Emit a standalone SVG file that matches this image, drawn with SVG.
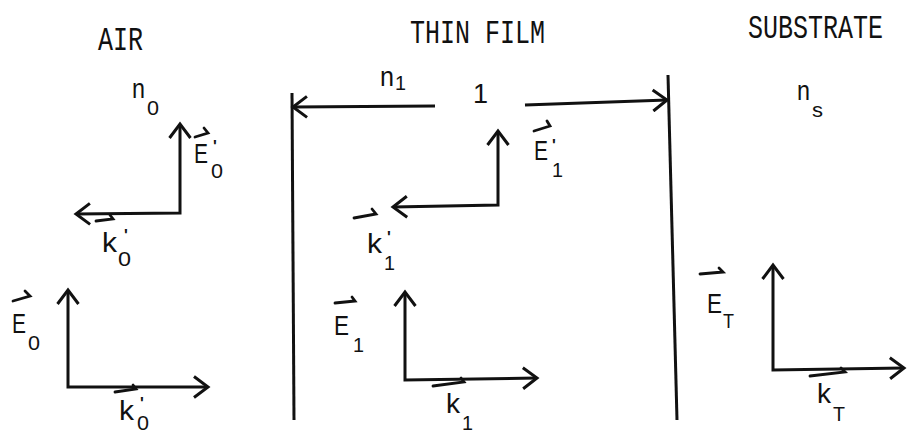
<svg xmlns="http://www.w3.org/2000/svg" width="907" height="435" viewBox="0 0 907 435">
<style>
.ln{fill:none;stroke:#111;stroke-width:3;stroke-linejoin:miter}
.vh{fill:none;stroke:#111;stroke-width:2.8;stroke-linecap:round}
.hd{font-family:"Liberation Mono","DejaVu Sans Mono",monospace;font-size:25px;fill:#111}
.lb{font-family:"Liberation Sans","DejaVu Sans",sans-serif;font-size:27px;fill:#111}
.sb{font-family:"Liberation Sans","DejaVu Sans",sans-serif;font-size:20px;fill:#111}
.pr{font-family:"Liberation Sans","DejaVu Sans",sans-serif;font-size:16px;font-weight:bold;fill:#111}
</style>
<defs>
<marker id="ah" viewBox="0 0 24 24" refX="19" refY="12" markerWidth="24" markerHeight="24" markerUnits="userSpaceOnUse" orient="auto-start-reverse">
<path d="M5,1.5 L19,12 L5,22.5" fill="none" stroke="#111" stroke-width="3"/>
</marker>
</defs>
<rect width="907" height="435" fill="#fff"/>

<g id="headings">
<text class="hd" transform="translate(98,50) scale(1,1.3)">AIR</text>
<text class="hd" transform="translate(410,43) scale(1,1.3)">THIN FILM</text>
<text class="hd" transform="translate(748,38) scale(1,1.3)">SUBSTRATE</text>
</g>

<g id="connectors">
<line class="ln" x1="292" y1="93" x2="294" y2="420"/>
<line class="ln" x1="668" y1="75" x2="677" y2="420"/>
<path class="ln" d="M435,106 L293,107" marker-end="url(#ah)"/>
<path class="ln" d="M525,105 L667,100" marker-end="url(#ah)"/>
</g>

<g id="n0">
<text class="lb" x="132" y="98" textLength="13" lengthAdjust="spacingAndGlyphs">n</text><text class="sb" x="147" y="115" textLength="12" lengthAdjust="spacingAndGlyphs">0</text>
</g>
<g id="n1">
<text class="lb" x="380" y="86" textLength="14" lengthAdjust="spacingAndGlyphs">n</text><text class="sb" x="395" y="90" textLength="11" lengthAdjust="spacingAndGlyphs">1</text>
</g>
<g id="thickness">
<text class="lb" x="473" y="103">1</text>
</g>
<g id="ns">
<text class="lb" x="797" y="100" textLength="13" lengthAdjust="spacingAndGlyphs">n</text><text class="sb" x="812" y="117" textLength="11" lengthAdjust="spacingAndGlyphs">s</text>
</g>

<g id="reflected-air">
<path class="ln" d="M76,214 L180,213 L180,124" marker-start="url(#ah)" marker-end="url(#ah)"/>
<path class="vh" d="M195,137 L208,133 L204,128"/>
<text class="lb" x="194" y="163" textLength="14" lengthAdjust="spacingAndGlyphs">E</text><text class="pr" x="213" y="152">'</text><text class="sb" x="211" y="178" textLength="12" lengthAdjust="spacingAndGlyphs">0</text>
<path class="vh" d="M96,221 L113,219 L110,215"/>
<text class="lb" x="102" y="252" textLength="15" lengthAdjust="spacingAndGlyphs">k</text><text class="pr" x="124" y="241">'</text><text class="sb" x="118" y="266" textLength="13" lengthAdjust="spacingAndGlyphs">0</text>
</g>

<g id="incident-air">
<path class="ln" d="M68,290 L68,387 L208,387" marker-start="url(#ah)" marker-end="url(#ah)"/>
<path class="vh" d="M13,301 L30,296 L25,291"/>
<text class="lb" x="12" y="333" textLength="14" lengthAdjust="spacingAndGlyphs">E</text><text class="sb" x="28" y="350" textLength="12" lengthAdjust="spacingAndGlyphs">0</text>
<path class="vh" d="M115,392 L136,389 L133,385"/>
<text class="lb" x="119" y="420" textLength="15" lengthAdjust="spacingAndGlyphs">k</text><text class="pr" x="140" y="409">'</text><text class="sb" x="137" y="430" textLength="12" lengthAdjust="spacingAndGlyphs">0</text>
</g>

<g id="reflected-film">
<path class="ln" d="M393,207 L498,205 L498,131" marker-start="url(#ah)" marker-end="url(#ah)"/>
<path class="vh" d="M534,131 L550,126 L547,121"/>
<text class="lb" x="534" y="160" textLength="14" lengthAdjust="spacingAndGlyphs">E</text><text class="pr" x="552" y="151">'</text><text class="sb" x="552" y="177" textLength="11" lengthAdjust="spacingAndGlyphs">1</text>
<path class="vh" d="M354,218 L376,214 L372,209"/>
<text class="lb" x="367" y="253" textLength="15" lengthAdjust="spacingAndGlyphs">k</text><text class="pr" x="387" y="243">'</text><text class="sb" x="384" y="270" textLength="11" lengthAdjust="spacingAndGlyphs">1</text>
</g>

<g id="incident-film">
<path class="vh" d="M335,303 L355,301 L352,297"/>
<path class="ln" d="M405,292 L405,380 L537,378" marker-start="url(#ah)" marker-end="url(#ah)"/>
<text class="lb" x="334" y="335" textLength="15" lengthAdjust="spacingAndGlyphs">E</text><text class="sb" x="353" y="352" textLength="11" lengthAdjust="spacingAndGlyphs">1</text>
<path class="vh" d="M433,386 L464,382 L461,378"/>
<text class="lb" x="446" y="413" textLength="14" lengthAdjust="spacingAndGlyphs">k</text><text class="sb" x="462" y="430" textLength="11" lengthAdjust="spacingAndGlyphs">1</text>
</g>

<g id="transmitted">
<path class="ln" d="M773,265 L773,370 L904,368" marker-start="url(#ah)" marker-end="url(#ah)"/>
<path class="vh" d="M700,274 L723,272 L719,268"/>
<text class="lb" x="707" y="313" textLength="15" lengthAdjust="spacingAndGlyphs">E</text><text class="sb" x="723" y="328" textLength="11" lengthAdjust="spacingAndGlyphs">T</text>
<path class="vh" d="M810,376 L845,372 L841,368"/>
<text class="lb" x="817" y="403" textLength="14" lengthAdjust="spacingAndGlyphs">k</text><text class="sb" x="833" y="421" textLength="12" lengthAdjust="spacingAndGlyphs">T</text>
</g>
</svg>
